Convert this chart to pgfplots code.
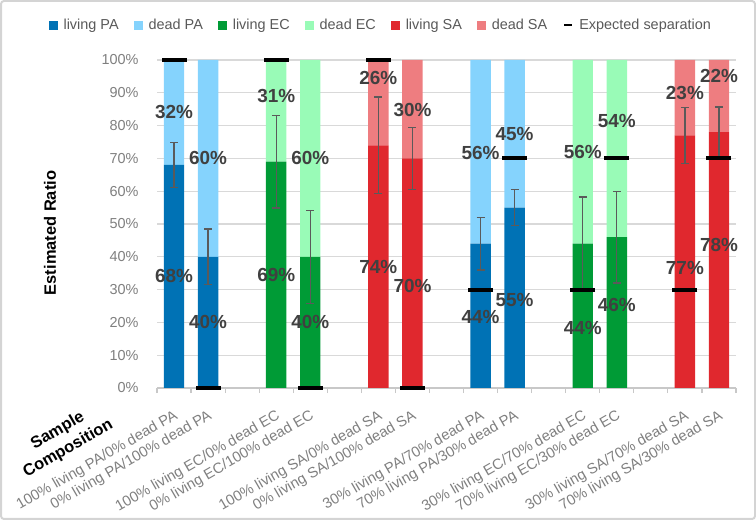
\documentclass[border=0pt]{standalone}
\usepackage{fontspec}
\setmainfont{Liberation Sans}
\usepackage{pgfplots}
\usepackage{pgfplotstable}
\pgfplotsset{compat=1.18}

\definecolor{livPA}{HTML}{0072B5}
\definecolor{deadPA}{HTML}{85D3FD}
\definecolor{livEC}{HTML}{009B36}
\definecolor{deadEC}{HTML}{99FBB7}
\definecolor{livSA}{HTML}{E0282E}
\definecolor{deadSA}{HTML}{EE7D80}
\definecolor{errgray}{HTML}{5A5A5A}
\definecolor{gridgray}{HTML}{D9D9D9}
\definecolor{axisgray}{HTML}{C8C8C8}
\definecolor{ticktext}{HTML}{7F7F7F}
\definecolor{legtext}{HTML}{595959}
\definecolor{lbltext}{HTML}{404040}
\definecolor{framegray}{HTML}{D4D4D4}

% living / dead share of each sample (percent), one column per series
\pgfplotstableread{
x  lPA dPA lEC dEC lSA dSA
0  68  32  0   0   0   0
1  40  60  0   0   0   0
3  0   0   69  31  0   0
4  0   0   40  60  0   0
6  0   0   0   0   74  26
7  0   0   0   0   70  30
9  44  56  0   0   0   0
10 55  45  0   0   0   0
12 0   0   44  56  0   0
13 0   0   46  54  0   0
15 0   0   0   0   77  23
16 0   0   0   0   78  22
}\composition

% living share with its error and the expected living share
\pgfplotstableread{
x  liv err  expct
0  68  6.9  100
1  40  8.5  0
3  69  14.1 100
4  40  14.2 0
6  74  14.7 100
7  70  9.4  0
9  44  8.0  30
10 55  5.5  70
12 44  14.2 30
13 46  14.0 70
15 77  8.5  30
16 78  7.7  70
}\errs

% value labels and the height at which each one sits
\pgfplotstableread{
x  val ypos
0  68  34
0  32  84
1  40  20
1  60  70
3  69  34.5
3  31  89
4  40  20
4  60  70
6  74  37
6  26  94.6
7  70  31
7  30  84.8
9  44  21.7
9  56  71.7
10 55  26.8
10 45  77.4
12 44  18.4
12 56  72
13 46  25.3
13 54  81.4
15 77  36.7
15 23  89.8
16 78  43.6
16 22  95
}\valuelabels

\pgfplotsset{
  frame/.style={
    scale only axis, width=579bp, height=328bp,
    at={(157bp,132bp)}, anchor=south west,
    xmin=-0.5, xmax=16.5, ymin=0, ymax=100,
    enlargelimits=false,
    /pgf/number format/assume math mode=true,
  },
}

\begin{document}
\begin{tikzpicture}
\useasboundingbox (0,0) rectangle (756bp,520bp);
\draw[framegray, line width=2bp, rounded corners=3bp] (1bp,1bp) rectangle (755bp,519bp);

\begin{axis}[
  frame,
  ybar stacked, bar width=0.6,
  axis lines*=left,
  axis line style={-},
  y axis line style={draw=none},
  x axis line style={draw=axisgray, line width=1.2bp},
  ymajorgrids, major grid style={draw=gridgray, line width=1.1bp},
  ytick={0,10,...,100},
  yticklabel={\pgfmathprintnumber{\tick}\%},
  ytick style={draw=none},
  yticklabel style={anchor=east, inner sep=0pt, xshift=-14bp,
    font=\fontsize{14.5}{16}\selectfont, text=ticktext},
  xtick={0,1,3,4,6,7,9,10,12,13,15,16},
  xticklabels={
    100\% living PA/0\% dead PA, 0\% living PA/100\% dead PA,
    100\% living EC/0\% dead EC, 0\% living EC/100\% dead EC,
    100\% living SA/0\% dead SA, 0\% living SA/100\% dead SA,
    30\% living PA/70\% dead PA, 70\% living PA/30\% dead PA,
    30\% living EC/70\% dead EC, 70\% living EC/30\% dead EC,
    30\% living SA/70\% dead SA, 70\% living SA/30\% dead SA},
  xticklabel style={rotate=30, anchor=east, inner sep=0pt,
    xshift=-9bp, yshift=-21bp,
    font=\fontsize{14.8}{16}\selectfont, text=ticktext},
  major x tick style={draw=none},
  minor xtick={-0.5,0.5,...,16.5},
  minor x tick style={draw=axisgray, line width=1.2bp},
  minor tick length=5bp,
  tick align=outside,
]
\addplot[fill=livPA, draw=none] table[x=x, y=lPA] {\composition};
\addplot[fill=deadPA, draw=none] table[x=x, y=dPA] {\composition};
\addplot[fill=livEC, draw=none] table[x=x, y=lEC] {\composition};
\addplot[fill=deadEC, draw=none] table[x=x, y=dEC] {\composition};
\addplot[fill=livSA, draw=none] table[x=x, y=lSA] {\composition};
\addplot[fill=deadSA, draw=none] table[x=x, y=dSA] {\composition};
\end{axis}

\begin{axis}[
  frame,
  hide axis, clip=false,
  legend style={at={(0.387,1.107)}, anchor=center, draw=none, fill=none,
    legend columns=-1, inner sep=0pt,
    font=\fontsize{14.5}{16}\selectfont, text=legtext,
    /tikz/every odd column/.append style={column sep=4bp},
    /tikz/every even column/.append style={column sep=13.5bp}},
  legend cell align=left,
]
\addlegendimage{legend image code/.code={\fill[livPA] (0bp,-4bp) rectangle (8bp,4bp);}}
\addlegendentry{living PA}
\addlegendimage{legend image code/.code={\fill[deadPA] (0bp,-4bp) rectangle (8bp,4bp);}}
\addlegendentry{dead PA}
\addlegendimage{legend image code/.code={\fill[livEC] (0bp,-4bp) rectangle (8bp,4bp);}}
\addlegendentry{living EC}
\addlegendimage{legend image code/.code={\fill[deadEC] (0bp,-4bp) rectangle (8bp,4bp);}}
\addlegendentry{dead EC}
\addlegendimage{legend image code/.code={\fill[livSA] (0bp,-4bp) rectangle (8bp,4bp);}}
\addlegendentry{living SA}
\addlegendimage{legend image code/.code={\fill[deadSA] (0bp,-4bp) rectangle (8bp,4bp);}}
\addlegendentry{dead SA}
\addlegendimage{legend image code/.code={\draw[black, line width=2.5bp] (0bp,0bp) -- (8bp,0bp);}}
\addlegendentry{Expected separation}

% error bars around the living share
\addplot[forget plot, only marks, mark=*, mark size=0pt,
  mark options={draw=none, fill=none},
  error bars/.cd, y dir=both, y explicit,
  error bar style={line width=1.3bp, draw=errgray},
  error mark options={rotate=90, mark size=4bp, line width=1.3bp, draw=errgray}]
  table[x=x, y=liv, y error=err] {\errs};

% expected separation
\addplot[forget plot, only marks, mark=-, mark size=12.5bp,
  mark options={line width=4bp, draw=black}]
  table[x=x, y=expct] {\errs};

% value labels
\addplot[forget plot, only marks, mark=*, mark size=0pt,
  mark options={draw=none, fill=none},
  point meta=explicit,
  nodes near coords={\pgfmathprintnumber{\pgfplotspointmeta}\%},
  every node near coord/.append style={anchor=center, inner sep=0pt,
    font=\fontsize{19}{21}\selectfont\bfseries, text=lbltext}]
  table[x=x, y=ypos, meta=val] {\valuelabels};
\end{axis}

\node[rotate=90, font=\fontsize{16.5}{18}\selectfont\bfseries] at (50bp,287bp) {Estimated Ratio};
\node[rotate=30, align=center, font=\fontsize{16.5}{21}\selectfont\bfseries] at (63bp,80bp) {Sample\\Composition};
\end{tikzpicture}
\end{document}
